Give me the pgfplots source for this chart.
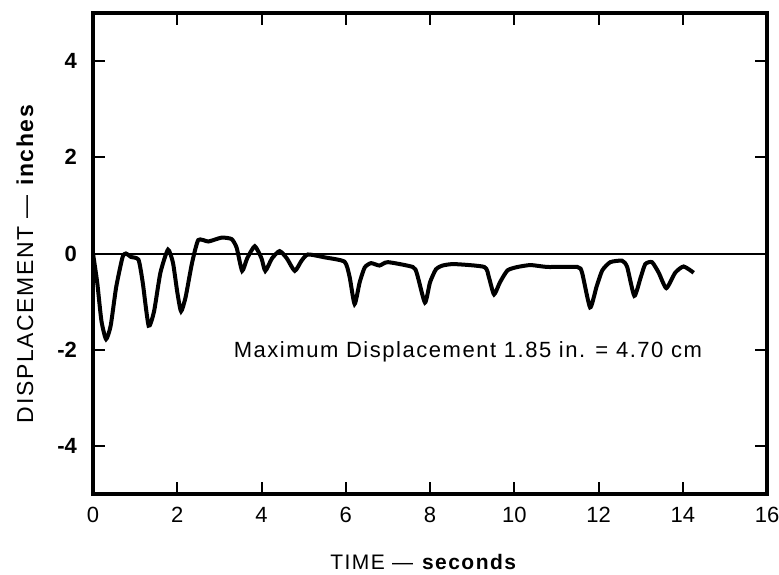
\documentclass[border=0pt]{standalone}
\usepackage{fontspec}
\setmainfont{Liberation Sans}
\newfontfamily\wide[LetterSpace=7]{Liberation Sans}
\usepackage{pgfplots}
\pgfplotsset{compat=1.18}

\begin{document}
\begin{tikzpicture}
\useasboundingbox (-46.5pt,-40pt) rectangle (343pt,247pt);
\begin{axis}[
    at={(0,0)}, anchor=south west,
    scale only axis,
    width=337pt, height=240.5pt,
    xmin=0, xmax=16, ymin=-5, ymax=5,
    xtick={0,2,...,16}, ytick={-4,-2,0,2,4},
    tick align=inside,
    major tick length=6pt,
    axis line style={line width=1.8pt},
    every tick/.style={line width=1pt, black},
    /pgf/number format/assume math mode=true,
    tick label style={font=\fontsize{11}{13}\selectfont},
    xticklabel style={yshift=-3pt},
    yticklabel style={xshift=-4.5pt, font=\fontsize{11}{13}\selectfont\bfseries},
    xlabel={TIME — \textbf{seconds}},
    ylabel={DISPLACEMENT — \textbf{inches}},
    every axis x label/.style={at={(axis description cs:0.491,-0.1403)}, anchor=center,
        font=\wide\fontsize{10.5}{12}\selectfont},
    every axis y label/.style={at={(axis description cs:-0.1009,0.48)}, anchor=center,
        rotate=90, font=\wide\fontsize{11.5}{13}\selectfont},
    clip=false,
]
\addplot[black, line width=1pt] coordinates {(0,0) (16,0)};
\addplot[black, line width=2pt, smooth, tension=0.35] coordinates {
(0,0) (0.1,-0.6) (0.2,-1.4) (0.31,-1.78) (0.42,-1.5) (0.55,-0.7) (0.7,-0.08)
(0.78,0.0) (0.9,-0.07) (1.08,-0.13) (1.18,-0.6) (1.32,-1.5) (1.45,-1.2)
(1.6,-0.4) (1.78,0.08) (1.9,-0.2) (2.0,-0.8) (2.09,-1.2) (2.2,-0.9)
(2.35,-0.2) (2.5,0.28) (2.74,0.25) (3.05,0.33) (3.29,0.3) (3.41,0.12)
(3.54,-0.36) (3.66,-0.1) (3.84,0.15) (4.0,-0.1) (4.09,-0.36) (4.25,-0.1)
(4.43,0.05) (4.6,-0.1) (4.79,-0.36) (4.95,-0.15) (5.1,-0.02) (5.5,-0.08)
(5.97,-0.17) (6.09,-0.48) (6.21,-1.05) (6.33,-0.6) (6.45,-0.29) (6.6,-0.2)
(6.8,-0.25) (7.0,-0.18) (7.59,-0.28) (7.69,-0.42) (7.88,-1.02) (8.0,-0.6)
(8.14,-0.33) (8.3,-0.25) (8.58,-0.22) (9.29,-0.28) (9.4,-0.5) (9.52,-0.85)
(9.66,-0.6) (9.84,-0.35) (10.08,-0.28) (10.39,-0.24) (10.79,-0.28)
(11.5,-0.28) (11.61,-0.4) (11.8,-1.12) (11.95,-0.7) (12.09,-0.35)
(12.28,-0.18) (12.56,-0.15) (12.68,-0.28) (12.85,-0.88) (13.0,-0.5)
(13.11,-0.22) (13.27,-0.18) (13.43,-0.4) (13.61,-0.72) (13.82,-0.4)
(14.02,-0.27) (14.26,-0.4)
};
\node[font=\wide\fontsize{11}{13}\selectfont] at (axis cs:8.9,-2.05)
    {Maximum Displacement 1.85 in. = 4.70 cm};
\end{axis}
\end{tikzpicture}
\end{document}
